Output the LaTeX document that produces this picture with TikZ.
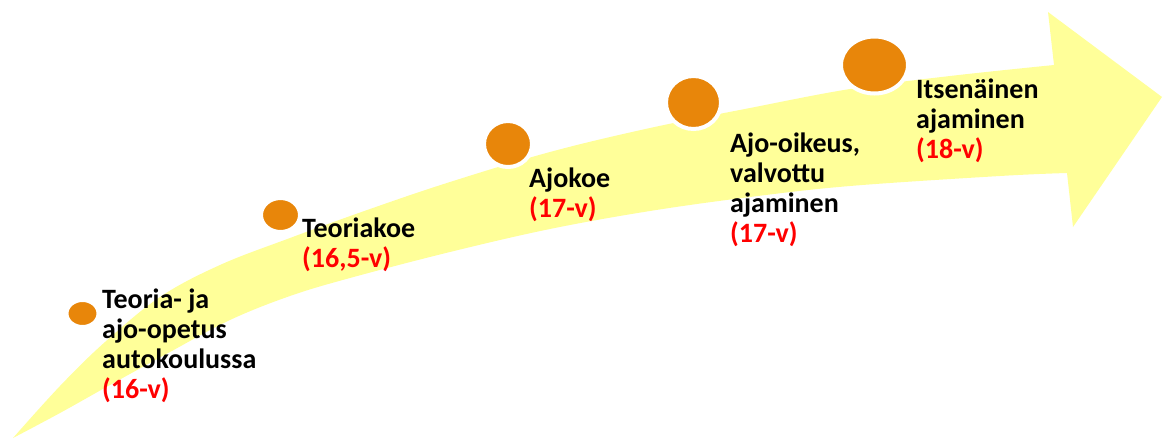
\documentclass[tikz,border=0pt]{standalone}
\usepackage{fontspec}
\setmainfont{Carlito}
\usetikzlibrary{shapes.geometric}
\definecolor{bandyellow}{RGB}{255,255,153}
\definecolor{dotorange}{RGB}{232,134,10}
\definecolor{agered}{RGB}{255,0,0}
\begin{document}
\begin{tikzpicture}[x=1pt,y=-1pt,
  dot/.style={ellipse, draw=white, line width=4pt, fill=dotorange, inner sep=0pt},
  lbl/.style={anchor=north west, inner sep=0pt, align=left, font=\bfseries\fontsize{28}{30}\selectfont}]
\useasboundingbox (0,0) rectangle (1168,439);
% band arrow
\fill[bandyellow]
  plot[smooth, tension=0.6] coordinates {(13,438) (60,386) (105,342) (160,297) (220,265) (290,238) (370,209) (450,182) (550,152) (650,128) (750,108) (850,89) (950,76) (1054,65)}
  -- (1048,12) -- (1162,97) -- (1073,227) -- (1067,173)
  -- plot[smooth, tension=0.6] coordinates {(1067,173) (1000,176) (850,186) (750,197) (650,211) (550,229) (450,252) (350,278) (290,296) (230,320) (170,352) (110,385) (60,413) (13,438)}
  -- cycle;
% dots
\node[dot, minimum width=32pt, minimum height=27pt] (c1) at (82.5,313.5) {};
\node[dot, minimum width=39pt, minimum height=34pt] (c2) at (280.5,215) {};
\node[dot, minimum width=48pt, minimum height=46pt] (c3) at (508,144) {};
\node[dot, minimum width=55pt, minimum height=53pt] (c4) at (693.5,102.5) {};
\node[dot, minimum width=67pt, minimum height=57pt] (c5) at (874.5,65) {};
% labels
\node[lbl] (t1) at (102,289) {Teoria- ja\\ajo-opetus\\autokoulussa\\{\color{agered}(16-v)}};
\node[lbl] (t2) at (302,218) {Teoriakoe\\{\color{agered}(16,5-v)}};
\node[lbl] (t3) at (529,168) {Ajokoe\\{\color{agered}(17-v)}};
\node[lbl] (t4) at (730,133) {Ajo-oikeus,\\valvottu\\ajaminen\\{\color{agered}(17-v)}};
\node[lbl] (t5) at (916,79) {Itsenäinen\\ajaminen\\{\color{agered}(18-v)}};
\end{tikzpicture}
\end{document}
